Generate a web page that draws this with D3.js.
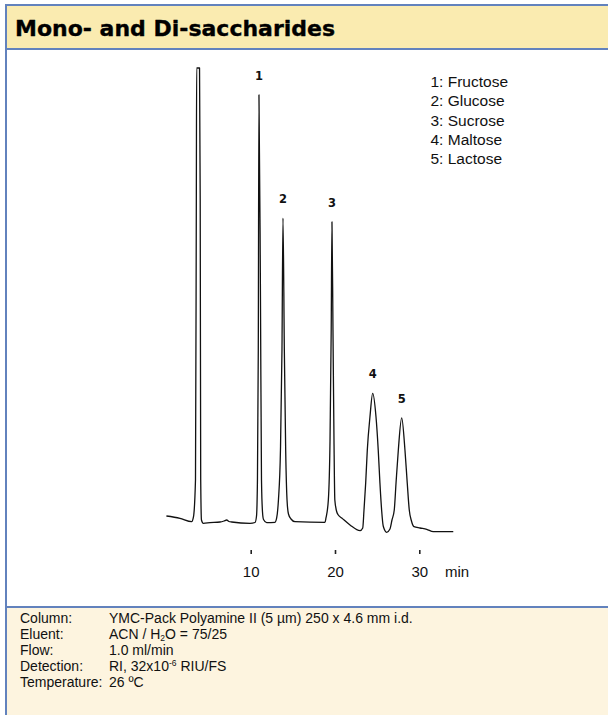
<!DOCTYPE html>
<html>
<head>
<meta charset="utf-8">
<script src="https://cdn.jsdelivr.net/npm/d3@7"></script>
<style>
  html, body { margin: 0; padding: 0; background: #ffffff; }
  svg { display: block; }
</style>
</head>
<body>
<svg id="chart" width="608" height="715"></svg>
<script>
// ---------- data ----------
const title = "Mono- and Di-saccharides";

// chromatogram trace: retention time (min) and detector signal (relative units)
const retentionTime = [0.00, 1.61, 3.00, 3.21, 3.45, 3.55, 3.59, 3.93, 4.01, 4.07, 4.16, 4.38, 5.17, 6.36, 6.83, 7.15, 7.42, 7.75, 9.92, 10.51,
  10.69, 10.80, 10.90, 10.98, 11.16, 11.28, 11.40, 11.52, 11.90, 12.88,
  13.08, 13.29, 13.53, 13.71, 13.83, 13.99, 14.15, 14.31, 14.48, 14.78, 15.25, 18.81,
  18.93, 19.21, 19.41, 19.55, 19.64, 19.76, 19.88, 19.98, 20.18, 20.39, 20.80, 21.78, 22.97,
  23.29, 23.44, 23.64, 23.83, 24.15, 24.47, 24.86, 25.13, 25.33, 25.53, 25.72, 26.13,
  26.52, 26.76, 27.03, 27.24, 27.51, 27.91, 28.30, 28.57, 28.81, 29.07, 29.37, 30.08, 30.88, 31.66, 34.03];
const signal = [1.54, 1.03, 0.29, 1.32, 9.45, 71.0, 100, 100, 71.0, 9.45, 0.66, -0.07, 0.07, 0.22, 0.44, 0.66, 0.33, 0.22, -0.07, 0.11,
  1.54, 9.45, 38.0, 94.1, 49.0, 9.45, 2.42, 0.77, 0.07, 0.15,
  1.10, 5.05, 16.0, 38.0, 67.0, 38.0, 16.0, 5.05, 1.98, 0.88, 0.29, 0.15,
  1.10, 5.05, 18.2, 42.4, 66.2, 42.4, 18.2, 5.05, 2.64, 1.76, 1.10, -0.44, -1.69,
  -1.10, 2.86, 8.79, 16.0, 23.4, 28.5, 23.4, 16.0, 8.79, 2.86, -0.66, -2.04,
  -1.32, 0.66, 2.86, 8.79, 16.0, 23.1, 16.0, 8.79, 2.86, 0.44, -0.81, -1.10, -1.38, -1.91, -1.91];

// peaks
const peakNumbers = ["1", "2", "3", "4", "5"];
const compounds = ["Fructose", "Glucose", "Sucrose", "Maltose", "Lactose"];
const peakTimes = [10.98, 13.83, 19.64, 24.47, 27.91];
const peakHeights = [94.1, 67.0, 66.2, 28.5, 23.1];

// axis
const xTicks = [10, 20, 30];
const xUnit = "min";

// conditions (|x| = subscript, ^x^ = superscript)
const conditionLabels = ["Column:", "Eluent:", "Flow:", "Detection:", "Temperature:"];
const conditionValues = [
  "YMC-Pack Polyamine II (5 µm) 250 x 4.6 mm i.d.",
  "ACN / H|2|O = 75/25",
  "1.0 ml/min",
  "RI, 32x10^-6^ RIU/FS",
  "26 ºC"
];

// ---------- layout ----------
const W = 608, H = 715;
const borderColor = "#6282bd";
const svg = d3.select("#chart");
const sans = "'Liberation Sans', Arial, Helvetica, sans-serif";

// title band
svg.append("rect").attr("x", 6).attr("y", 5).attr("width", W - 6).attr("height", 44).attr("fill", "#faebb0");
// footer band
svg.append("rect").attr("x", 6).attr("y", 607).attr("width", W - 6).attr("height", H - 607).attr("fill", "#fdf4df");

// borders
const border = svg.append("g").attr("stroke", borderColor).attr("stroke-width", 2);
border.append("line").attr("x1", 5).attr("x2", W).attr("y1", 5).attr("y2", 5);
border.append("line").attr("x1", 6).attr("x2", 6).attr("y1", 4).attr("y2", H);
border.append("line").attr("x1", 6).attr("x2", W).attr("y1", 49).attr("y2", 49);
border.append("line").attr("x1", 6).attr("x2", W).attr("y1", 607).attr("y2", 607);

svg.append("text")
  .attr("x", 15).attr("y", 35.5)
  .attr("font-family", "'DejaVu Sans', sans-serif")
  .attr("font-weight", "bold")
  .attr("font-size", 22)
  .attr("fill", "#000")
  .attr("stroke", "#000")
  .attr("stroke-width", 0.35)
  .attr("stroke-linejoin", "round")
  .text(title);

// scales
const x = d3.scaleLinear().domain([0, 30]).range([166.4, 419.3]);
const y = d3.scaleLinear().domain([0, 100]).range([523, 68]);

const trace = retentionTime.map((t, i) => [t, signal[i]]);
const line = d3.line().x(d => x(d[0])).y(d => y(d[1])).curve(d3.curveMonotoneX);

svg.append("path")
  .datum(trace)
  .attr("d", line)
  .attr("fill", "none")
  .attr("stroke", "#111")
  .attr("stroke-width", 1.3)
  .attr("stroke-linejoin", "round");

// peak labels
svg.append("g").selectAll("text")
  .data(peakNumbers)
  .join("text")
  .attr("x", (d, i) => x(peakTimes[i]))
  .attr("y", (d, i) => y(peakHeights[i]) - 15)
  .attr("text-anchor", "middle")
  .attr("font-family", "'DejaVu Sans', sans-serif")
  .attr("font-weight", "bold")
  .attr("font-size", 11.5)
  .attr("fill", "#111")
  .text(d => d);

// legend
const legend = svg.append("g")
  .attr("font-family", sans)
  .attr("font-size", 15.5)
  .attr("fill", "#111");
legend.selectAll("text")
  .data(compounds)
  .join("text")
  .attr("x", 430.5)
  .attr("y", (d, i) => 87 + i * 19.25)
  .text((d, i) => peakNumbers[i] + ": " + d);

// x axis
const axis = d3.axisBottom(x).tickValues(xTicks).tickSize(4).tickPadding(12).tickFormat(d3.format("d"));
const gx = svg.append("g").attr("transform", "translate(0,550)").call(axis);
gx.select(".domain").remove();
gx.selectAll(".tick line").attr("stroke", "#222").attr("stroke-width", 1.6);
gx.selectAll(".tick text")
  .attr("font-family", sans)
  .attr("font-size", 15)
  .attr("fill", "#111");
svg.append("text")
  .attr("x", 445).attr("y", 577)
  .attr("font-family", sans)
  .attr("font-size", 15)
  .attr("fill", "#111")
  .text(xUnit);

// conditions
const cond = svg.append("g")
  .attr("font-family", sans)
  .attr("font-size", 14)
  .attr("fill", "#111");
conditionLabels.forEach((lab, i) => {
  const yy = 623 + i * 16;
  cond.append("text").attr("x", 20).attr("y", yy).text(lab);
  const t = cond.append("text").attr("x", 109).attr("y", yy);
  const parts = conditionValues[i].split(/(\|[^|]*\||\^[^^]*\^)/).filter(s => s.length);
  let shift = 0;
  parts.forEach(p => {
    if (p.startsWith("|")) {
      t.append("tspan").attr("font-size", 8.5).attr("dy", 1.5 - shift).text(p.slice(1, -1));
      shift = 1.5;
    } else if (p.startsWith("^")) {
      t.append("tspan").attr("font-size", 8.5).attr("dy", -5 - shift).text(p.slice(1, -1));
      shift = -5;
    } else {
      t.append("tspan").attr("dy", -shift).text(p);
      shift = 0;
    }
  });
});
</script>
</body>
</html>
